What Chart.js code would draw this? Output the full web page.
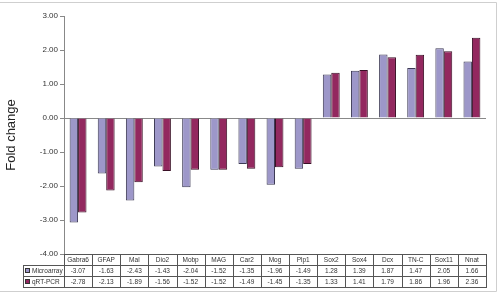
<!DOCTYPE html>
<html>
<head>
<meta charset="utf-8">
<style>
  body{margin:0;background:#fff;}
  #wrap{width:501px;height:295px;}
</style>
<script src="https://cdn.jsdelivr.net/npm/chart.js@4/dist/chart.umd.min.js"></script>
</head>
<body>
<div id="wrap"><canvas id="myChart" width="501" height="295"></canvas></div>
<script>
'use strict';
var geneNames=['Gabra6','GFAP','Mal','Dio2','Mobp','MAG','Car2','Mog','Plp1','Sox2','Sox4','Dcx','TN-C','Sox11','Nnat'];
var microarrayValues=[-3.07,-1.63,-2.43,-1.43,-2.04,-1.52,-1.35,-1.96,-1.49,1.28,1.39,1.87,1.47,2.05,1.66];
var pcrValues=[-2.78,-2.13,-1.89,-1.56,-1.52,-1.52,-1.49,-1.45,-1.35,1.33,1.41,1.79,1.86,1.96,2.36];
var seriesNames=['Microarray','qRT-PCR'];
var seriesColors=['#9d97c9','#93285f'];

// data table under the plot + light frame round the picture
var tablePlugin={
  id:'dataTable',
  afterDraw:function(chart){
    var ctx=chart.ctx;
    var area=chart.chartArea;
    var xScale=chart.scales.x;
    var colW=(area.right-area.left)/geneNames.length;
    var rowH=11;
    var top=area.bottom;
    var labelLeft=23;
    var allRows=[microarrayValues,pcrValues];
    ctx.save();
    ctx.strokeStyle='#555';
    ctx.lineWidth=1;
    // header row
    ctx.strokeRect(area.left+0.5,top+0.5,area.right-area.left,rowH);
    ctx.strokeRect(labelLeft+0.5,top+rowH+0.5,area.right-labelLeft,rowH*2);
    ctx.beginPath();
    ctx.moveTo(labelLeft,top+rowH*2+0.5);
    ctx.lineTo(area.right,top+rowH*2+0.5);
    for(var i=0;i<=geneNames.length;i++){
      var lx=Math.round(area.left+i*colW)+0.5;
      ctx.moveTo(lx,top);
      ctx.lineTo(lx,top+rowH*3);
    }
    ctx.stroke();
    ctx.fillStyle='#333';
    ctx.font='6.5px "Liberation Sans", Arial, sans-serif';
    ctx.textAlign='center';
    ctx.textBaseline='middle';
    for(var j=0;j<geneNames.length;j++){
      var cx=xScale.getPixelForValue(j);
      ctx.fillText(geneNames[j],cx,top+rowH/2+1);
      for(var r=0;r<allRows.length;r++){
        ctx.fillText(allRows[r][j].toFixed(2),cx,top+rowH*(r+1)+rowH/2+1);
      }
    }
    ctx.textAlign='left';
    for(var s=0;s<seriesNames.length;s++){
      var ry=top+rowH*(s+1);
      ctx.fillStyle=seriesColors[s];
      ctx.fillRect(labelLeft+2,ry+3,5,5);
      ctx.strokeStyle='#333';
      ctx.strokeRect(labelLeft+2.5,ry+3.5,4,4);
      ctx.fillStyle='#333';
      ctx.fillText(seriesNames[s],labelLeft+9,ry+rowH/2+1);
    }
    // frame
    ctx.strokeStyle='#cfcfcf';
    ctx.beginPath();
    ctx.moveTo(0,2.5);
    ctx.lineTo(496.5,2.5);
    ctx.lineTo(496.5,291.5);
    ctx.lineTo(0,291.5);
    ctx.stroke();
    ctx.restore();
  }
};

var ctx=document.getElementById('myChart').getContext('2d');
var chart=new Chart(ctx,{
  type:'bar',
  data:{
    labels:geneNames,
    datasets:[{
      label:seriesNames[0],
      data:microarrayValues,
      backgroundColor:seriesColors[0],
      borderColor:'#3d3a55',
      borderWidth:1,
      categoryPercentage:0.6,
      barPercentage:1
    },{
      label:seriesNames[1],
      data:pcrValues,
      backgroundColor:seriesColors[1],
      borderColor:'#3a1026',
      borderWidth:1,
      categoryPercentage:0.6,
      barPercentage:1
    }]
  },
  options:{
    responsive:false,
    animation:false,
    layout:{padding:{left:0,top:16,right:15,bottom:41}},
    plugins:{legend:{display:false},tooltip:{enabled:false}},
    scales:{
      x:{display:false},
      y:{
        min:-4,
        max:3,
        afterFit:function(scale){scale.width=64;},
        ticks:{
          stepSize:1,
          padding:2,
          color:'#333',
          font:{size:8,family:'"Liberation Sans", Arial, sans-serif'},
          callback:function(v){return v.toFixed(2);}
        },
        grid:{
          color:function(c){return c.tick&&c.tick.value===0?'#888':'rgba(0,0,0,0)';},
          tickColor:'#888',
          tickLength:4
        },
        border:{display:true,color:'#888'},
        title:{
          display:true,
          text:'Fold change',
          color:'#222',
          font:{size:13,family:'"Liberation Sans", Arial, sans-serif'},
          padding:{top:4,bottom:0}
        }
      }
    }
  },
  plugins:[tablePlugin]
});
</script>
</body>
</html>
